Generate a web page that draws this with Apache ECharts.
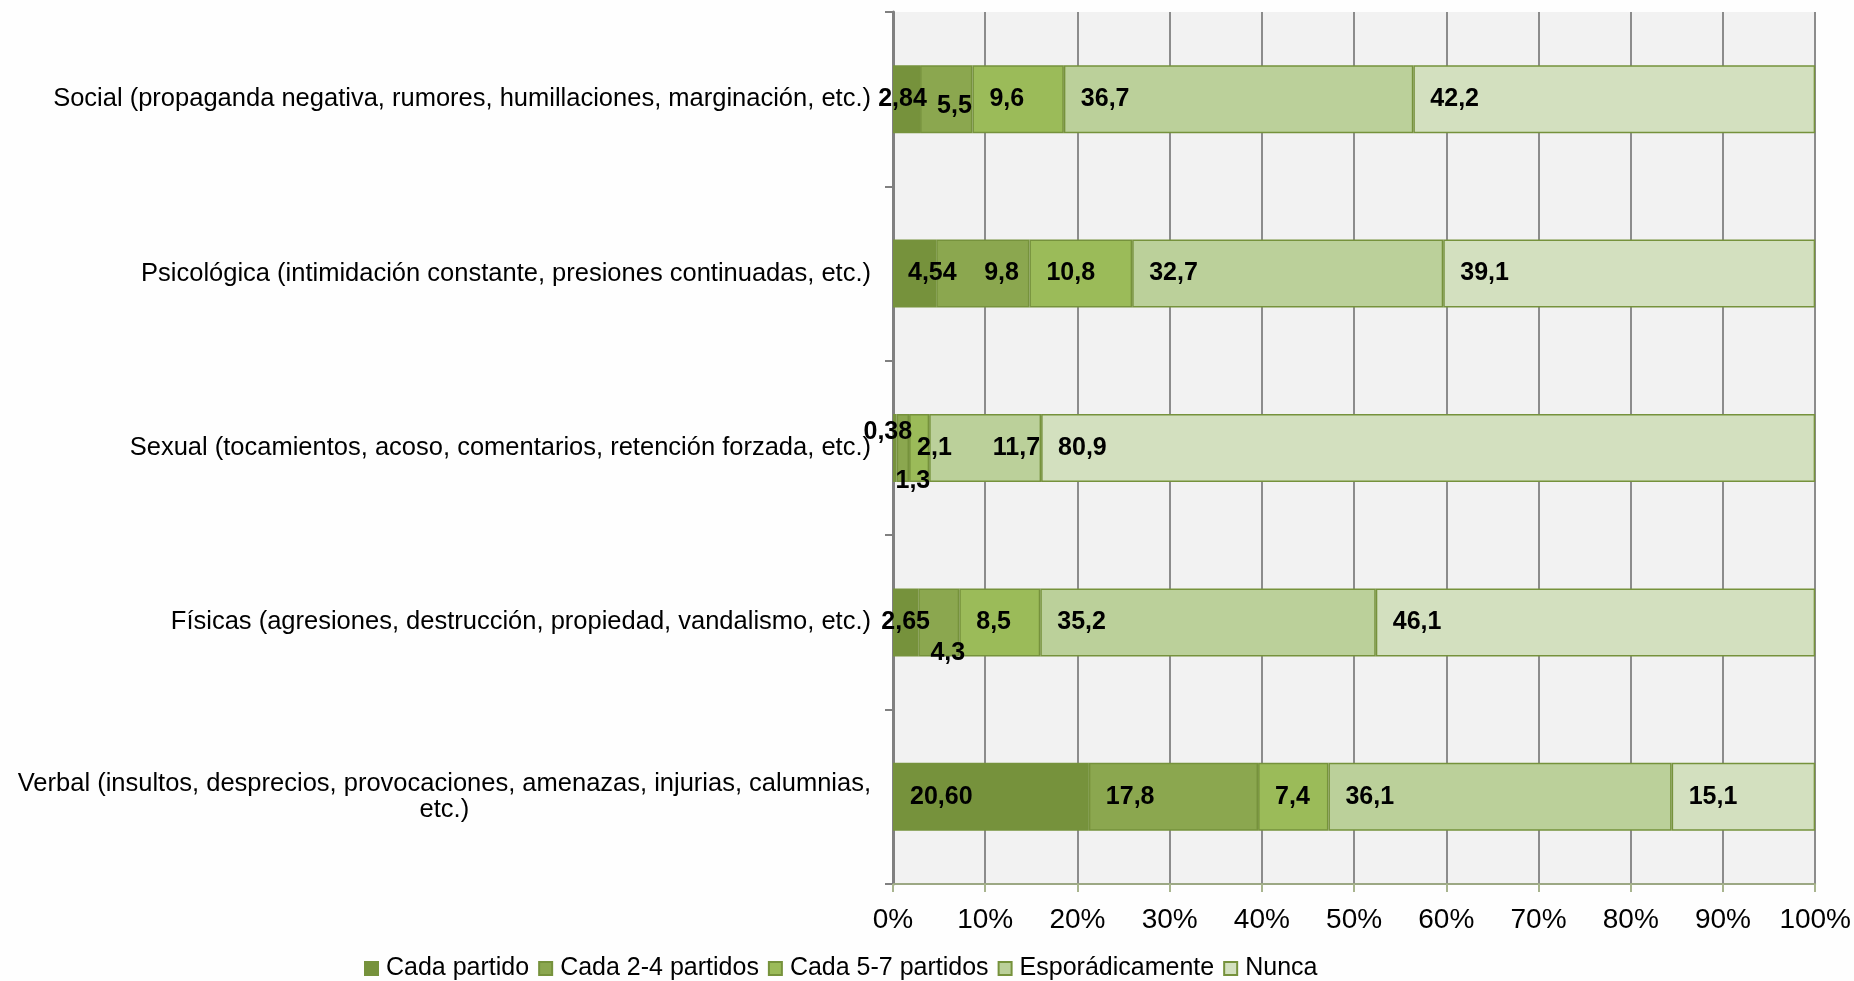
<!DOCTYPE html>
<html>
<head>
<meta charset="utf-8">
<script src="https://cdn.jsdelivr.net/npm/echarts@6/dist/echarts.min.js"></script>
<style>
  html, body { margin: 0; padding: 0; background: #fefefe; }
  #chart { width: 1854px; height: 981px; }
</style>
</head>
<body>
<div id="chart"></div>
<script>
// categorías (de abajo hacia arriba, como las pinta el eje)
const categorias = [
  'Verbal (insultos, desprecios, provocaciones, amenazas, injurias, calumnias,\netc.)',
  'Físicas (agresiones, destrucción, propiedad, vandalismo, etc.)',
  'Sexual (tocamientos, acoso, comentarios, retención forzada, etc.)',
  'Psicológica (intimidación constante, presiones continuadas, etc.)',
  'Social (propaganda negativa, rumores, humillaciones, marginación, etc.)'
]
const seriesNombres = ['Cada partido', 'Cada 2-4 partidos', 'Cada 5-7 partidos', 'Esporádicamente', 'Nunca']
const cadaPartido = [20.60, 2.65, 0.38, 4.54, 2.84]
const cada2a4 = [17.8, 4.3, 1.3, 9.8, 5.5]
const cada5a7 = [7.4, 8.5, 2.1, 10.8, 9.6]
const esporadicamente = [36.1, 35.2, 11.7, 32.7, 36.7]
const nunca = [15.1, 46.1, 80.9, 39.1, 42.2]
const decimales = [2, 1, 1, 1, 1]
const ejeX = [0, 10, 20, 30, 40, 50, 60, 70, 80, 90, 100]

const valores = [cadaPartido, cada2a4, cada5a7, esporadicamente, nunca]
const colores = ['#76923c', '#8ba74f', '#9bbb59', '#bbd09a', '#d3e0bf']

// ajustes de etiquetas que Excel movió por falta de sitio  [serie][categoría]
const ajustes = {
  '0-4': { position: 'inside', offset: [-4, 0] },
  '1-4': { offset: [0, 7] },
  '0-3': { distance: 15 },
  '1-3': { distance: 48 },
  '0-2': { position: 'inside', offset: [-7, -16] },
  '1-2': { position: 'inside', offset: [10, 33] },
  '2-2': { distance: 8 },
  '3-2': { position: 'insideRight', distance: 1 },
  '0-1': { position: 'inside', offset: [0, 0] },
  '1-1': { position: 'inside', offset: [9, 31] }
}

// 100% apilado: cada fila se normaliza por su total
const totales = categorias.map((c, i) => valores.reduce((s, arr) => s + arr[i], 0))

const fuente = "'Liberation Sans', Arial, sans-serif"

let myChart = echarts.init(document.getElementById('chart'))
let option = {
  backgroundColor: '#fefefe',
  animation: false,
  legend: {
    left: 359,
    bottom: -5,
    itemWidth: 13,
    itemHeight: 13,
    itemGap: 9,
    icon: 'rect',
    textStyle: { fontFamily: fuente, fontSize: 25, color: '#000', padding: [0, 0, 0, 3] },
    data: seriesNombres
  },
  grid: {
    left: 893,
    right: 37,
    top: 12,
    bottom: 97,
    show: true,
    backgroundColor: '#f2f2f2',
    borderWidth: 0
  },
  xAxis: {
    type: 'value',
    min: ejeX[0],
    max: ejeX[ejeX.length - 1],
    interval: ejeX[1] - ejeX[0],
    axisLine: { show: true, lineStyle: { color: '#9ca884', width: 2 } },
    axisTick: { show: true, length: 8, lineStyle: { color: '#a8b48e', width: 2 } },
    splitLine: { show: true, lineStyle: { color: '#8c8c8c', width: 2 } },
    axisLabel: {
      formatter: '{value}%',
      margin: 22,
      fontFamily: fuente,
      fontSize: 28,
      color: '#000'
    }
  },
  yAxis: {
    type: 'category',
    data: categorias,
    axisLine: { show: true, lineStyle: { color: '#808080', width: 3 } },
    axisTick: { show: true, length: 8, lineStyle: { color: '#808080', width: 2 } },
    axisLabel: {
      margin: 22,
      color: '#000',
      formatter: v => v.split('\n').map(l => '{c|' + l + '}').join('\n'),
      rich: {
        c: { align: 'center', fontFamily: fuente, fontSize: 25.5, lineHeight: 26, color: '#000' }
      }
    }
  },
  series: valores.map((arr, s) => ({
    name: seriesNombres[s],
    type: 'bar',
    stack: 'total',
    barWidth: 68,
    itemStyle: { color: colores[s], borderColor: '#76923c', borderWidth: 1.5 },
    label: {
      show: true,
      position: 'insideLeft',
      distance: 17,
      color: '#000',
      fontFamily: fuente,
      fontWeight: 'bold',
      fontSize: 25
    },
    data: arr.map((v, i) => {
      let item = {
        value: v / totales[i] * 100,
        raw: v
      }
      let aj = ajustes[s + '-' + i]
      if (aj) item.label = aj
      return item
    }),
    emphasis: { disabled: true }
  }))
}
// texto de la etiqueta con el valor original y coma decimal
option.series.forEach((serie, s) => {
  serie.label.formatter = p => p.data.raw.toFixed(decimales[s]).replace('.', ',')
})
myChart.setOption(option)
</script>
</body>
</html>
